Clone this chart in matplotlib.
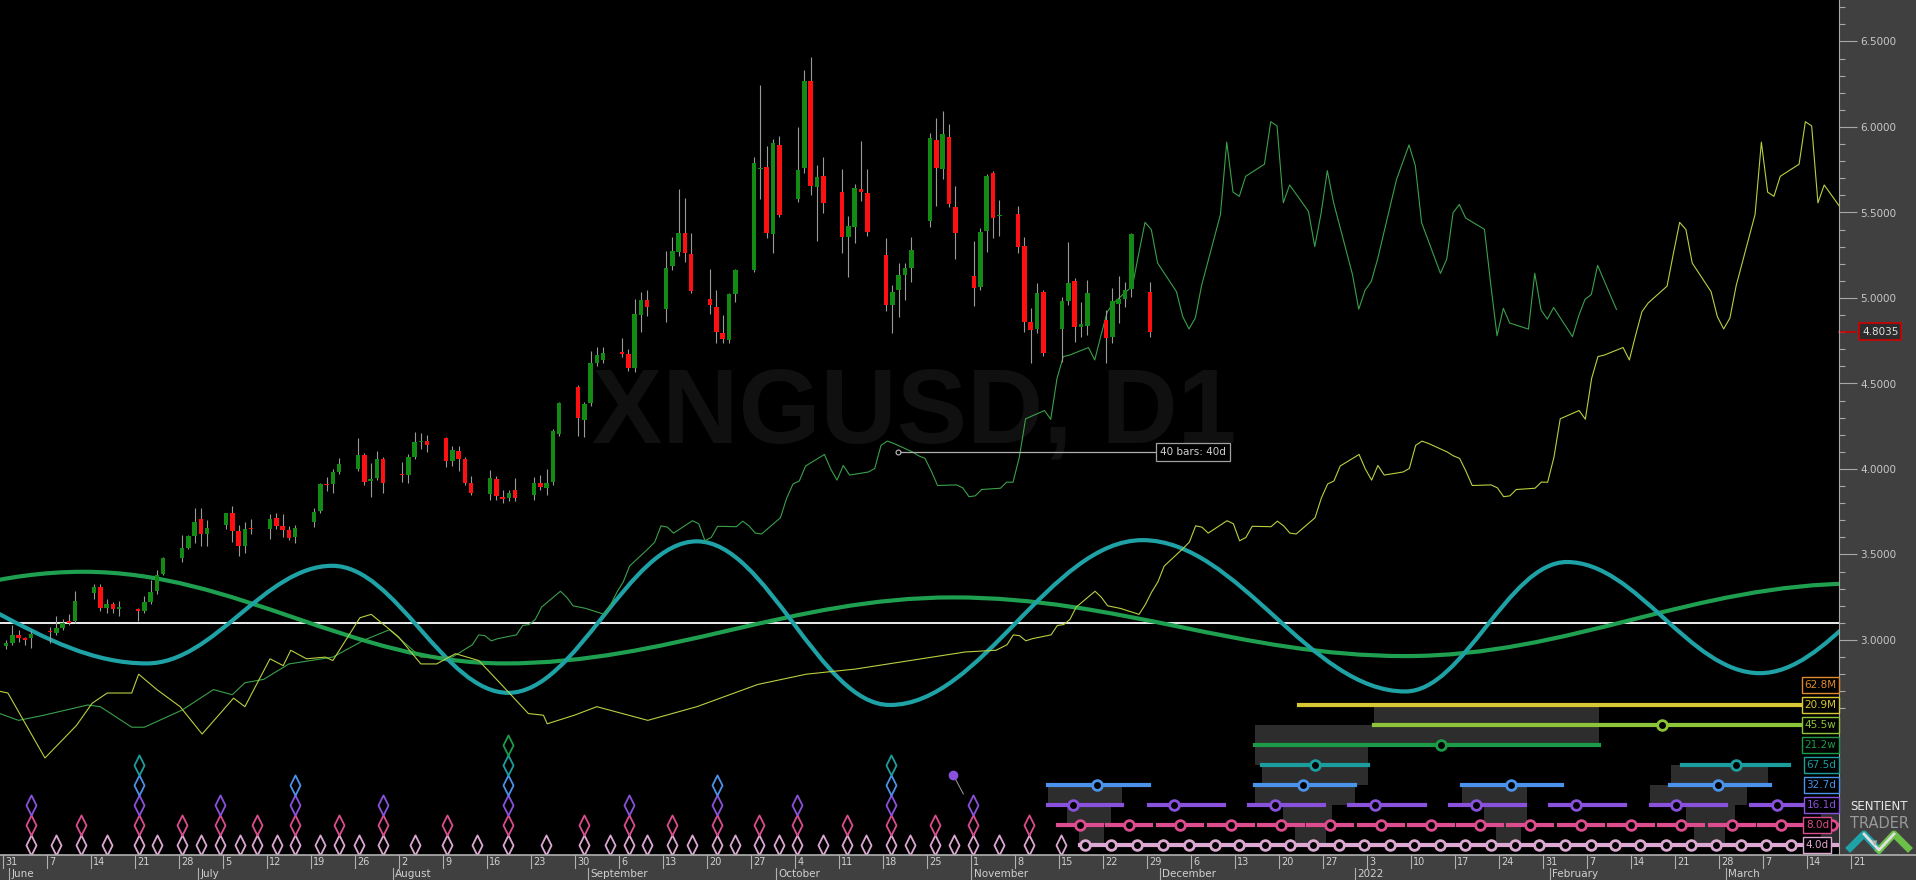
import matplotlib
matplotlib.use("Agg")
import matplotlib.pyplot as plt
import matplotlib.transforms as mtransforms
from matplotlib.path import Path
from matplotlib.patches import PathPatch, Rectangle
import numpy as np
import pandas as pd

# ---------------- data ----------------
origin = pd.Timestamp("2021-05-31")
dates = pd.bdate_range("2021-05-31", "2021-11-29")

opens = [2.965, 2.98, 3.03, 3.01, 3.01,
         3.055, 3.04, 3.07, 3.11, 3.11,
         3.275, 3.31, 3.19, 3.21, 3.18,
         3.18, 3.17, 3.225, 3.285, 3.385,
         3.48, 3.54, 3.61, 3.71, 3.62,
         3.67, 3.74, 3.64, 3.55, 3.655,
         3.65, 3.715, 3.665, 3.645, 3.60,
         3.69, 3.756, 3.915, 3.91, 3.98,
         4.00, 4.08, 3.93, 3.945, 4.058,
         3.97, 3.963, 4.072, 4.157, 4.161,
         4.184, 4.048, 4.104, 4.06, 3.92,
         3.853, 3.94, 3.835, 3.83, 3.88,
         3.847, 3.92, 3.89, 3.926, 4.205,
         4.481, 4.287, 4.386, 4.62, 4.64,
         4.682, 4.673, 4.589, 4.90, 4.988,
         4.934, 5.187, 5.269, 5.382, 5.257,
         4.996, 4.946, 4.793, 4.754, 5.023,
         5.164, 5.755, 5.768, 5.374, 5.895,
         5.577, 5.758, 6.271, 5.651, 5.714,
         5.62, 5.359, 5.413, 5.636, 5.616,
         5.252, 4.959, 5.047, 5.135, 5.174,
         5.452, 5.924, 5.755, 5.944, 5.534,
         5.129, 5.063, 5.394, 5.733, 5.478,
         5.491, 5.304, 4.862, 4.817, 5.037,
         4.817, 4.985, 5.101, 4.829, 4.836,
         4.871, 4.774, 4.965, 4.992, 5.051,
         5.037]
highs = [3.00, 3.09, 3.06, 3.02, 3.06,
         3.075, 3.14, 3.12, 3.15, 3.285,
         3.33, 3.33, 3.24, 3.225, 3.23,
         3.19, 3.255, 3.35, 3.41, 3.485,
         3.615, 3.615, 3.77, 3.77, 3.70,
         3.745, 3.785, 3.67, 3.69, 3.71,
         3.735, 3.74, 3.735, 3.665, 3.67,
         3.77, 3.92, 3.955, 4.00, 4.065,
         4.18, 4.095, 4.035, 4.106, 4.072,
         4.04, 4.09, 4.216, 4.208, 4.20,
         4.19, 4.134, 4.134, 4.07, 3.96,
         3.994, 3.96, 3.876, 3.876, 3.95,
         3.955, 3.967, 3.998, 4.232, 4.394,
         4.491, 4.392, 4.69, 4.715, 4.712,
         4.764, 4.70, 4.996, 5.037, 5.047,
         5.277, 5.355, 5.639, 5.587, 5.378,
         5.168, 5.047, 4.899, 5.027, 5.168,
         5.823, 6.246, 5.889, 5.928, 5.947,
         6.002, 6.333, 6.411, 5.778, 5.827,
         5.752, 5.48, 5.667, 5.92, 5.752,
         5.349, 5.076, 5.203, 5.207, 5.359,
         5.967, 6.051, 6.096, 6.018, 5.655,
         5.335, 5.408, 5.725, 5.745, 5.573,
         5.538, 5.355, 4.94, 5.086, 5.047,
         5.008, 5.33, 5.115, 4.979, 5.105,
         4.93, 5.057, 5.129, 5.096, 5.378,
         5.096]
lows = [2.945, 2.97, 2.99, 2.97, 2.955,
        2.985, 3.03, 3.06, 3.09, 3.10,
        3.24, 3.17, 3.16, 3.16, 3.14,
        3.11, 3.16, 3.21, 3.27, 3.38,
        3.455, 3.53, 3.565, 3.55, 3.55,
        3.65, 3.575, 3.49, 3.51, 3.62,
        3.59, 3.65, 3.60, 3.585, 3.57,
        3.66, 3.74, 3.87, 3.86, 3.97,
        3.99, 3.905, 3.835, 3.935, 3.857,
        3.925, 3.916, 4.06, 4.118, 4.10,
        4.01, 4.02, 3.99, 3.905, 3.847,
        3.82, 3.82, 3.80, 3.81, 3.81,
        3.82, 3.88, 3.847, 3.905, 4.193,
        4.193, 4.19, 4.37, 4.60, 4.62,
        4.657, 4.575, 4.57, 4.803, 4.895,
        4.862, 5.164, 5.246, 5.213, 5.031,
        4.906, 4.735, 4.739, 4.739, 4.979,
        5.154, 5.577, 5.349, 5.261, 5.476,
        5.563, 5.729, 5.602, 5.335, 5.495,
        5.261, 5.121, 5.32, 5.569, 5.363,
        4.926, 4.793, 4.887, 4.988, 5.096,
        5.417, 5.538, 5.694, 5.53, 5.226,
        4.953, 5.047, 5.271, 5.349, 5.363,
        5.265, 4.803, 4.618, 4.793, 4.661,
        4.628, 4.959, 4.745, 4.774, 4.784,
        4.618, 4.735, 4.856, 4.945, 5.004,
        4.77]
closes = [2.985, 3.03, 3.01, 3.00, 3.035,
          3.045, 3.07, 3.10, 3.105, 3.23,
          3.31, 3.19, 3.21, 3.18, 3.195,
          3.17, 3.225, 3.28, 3.38, 3.48,
          3.54, 3.61, 3.69, 3.62, 3.655,
          3.74, 3.64, 3.55, 3.65, 3.648,
          3.71, 3.665, 3.645, 3.595, 3.655,
          3.75, 3.91, 3.905, 3.98, 4.03,
          4.08, 3.925, 3.94, 4.058, 3.916,
          3.963, 4.072, 4.157, 4.163, 4.138,
          4.048, 4.114, 4.06, 3.916, 3.857,
          3.948, 3.84, 3.83, 3.857, 3.83,
          3.92, 3.896, 3.92, 4.224, 4.388,
          4.296, 4.378, 4.618, 4.665, 4.676,
          4.678, 4.59, 4.906, 4.988, 4.945,
          5.173, 5.277, 5.382, 5.261, 5.043,
          4.957, 4.803, 4.758, 5.023, 5.164,
          5.788, 5.76, 5.382, 5.908, 5.485,
          5.749, 6.271, 5.655, 5.71, 5.558,
          5.355, 5.421, 5.641, 5.62, 5.388,
          4.959, 5.035, 5.135, 5.174, 5.281,
          5.934, 5.758, 5.959, 5.55, 5.378,
          5.057, 5.386, 5.714, 5.466, 5.484,
          5.30, 4.862, 4.813, 5.031, 4.676,
          4.985, 5.09, 4.829, 4.848, 5.031,
          4.764, 4.985, 4.992, 5.047, 5.374,
          4.8035]
last_price = 4.8035

# FLD lines: earlier part (before first candle), in days since 31 May
fld21_shift = 74.2
fld21_pre_day = [-1, 2, 6, 13, 15, 20, 22, 28, 33, 36, 38, 41, 45, 52, 57, 61, 66, 71]
fld21_pre_val = [2.57, 2.53, 2.56, 2.62, 2.61, 2.49, 2.49, 2.59, 2.71, 2.68, 2.75, 2.77,
                 2.86, 2.90, 3.00, 3.06, 2.90, 2.90]
fld45_shift = 159.25
fld45_pre_day = [-1, 0.3, 6.2, 11.2, 13.7, 16.1, 20.0, 21.1, 24.0, 27.7, 31.2, 36.2, 38.0,
                 42.0, 44.1, 45.3, 47.8, 50.8, 52.0, 56.3, 58.1, 62.4, 66.0, 68.5, 71.5,
                 75.2, 78.8, 83.1, 85.5, 86.1, 90.4, 94.0, 102.1, 109.9, 119.6, 127.3,
                 135.1, 143.9, 152.6, 157.5]
fld45_pre_val = [2.70, 2.69, 2.31, 2.50, 2.63, 2.69, 2.69, 2.80, 2.71, 2.61, 2.45, 2.66, 2.61,
                 2.89, 2.85, 2.94, 2.89, 2.90, 2.88, 3.13, 3.15, 3.02, 2.86, 2.86, 2.92,
                 2.88, 2.74, 2.57, 2.56, 2.51, 2.56, 2.61, 2.53, 2.61, 2.74, 2.80,
                 2.83, 2.88, 2.93, 2.94]

# cycle waves: turning points (day, price)
teal_days = [-25, 22.4, 51.9, 79.9, 109.9, 140.6, 180.8, 222.6, 248.3, 279.0, 309]
teal_vals = [3.45, 2.863, 3.434, 2.691, 3.577, 2.62, 3.584, 2.699, 3.456, 2.806, 3.45]
green_days = [-58, 12.3, 79.3, 150.7, 222.6, 294.6]
green_vals = [2.86, 3.399, 2.863, 3.249, 2.906, 3.33]
hline_price = 3.10

# past trough markers (day) per cycle row
troughs_4d = [4.0, 7.9, 12.0, 16.1, 21.1, 24.0, 28.0, 31.1, 34.0, 37.2, 40.0, 43.1, 45.9, 50.0,
              53.0, 56.1, 60.0, 65.0, 70.1, 75.0, 79.8, 85.9, 92.0, 96.1, 99.1, 101.9, 106.0,
              109.1, 113.1, 115.9, 119.8, 122.9, 125.9, 129.9, 133.8, 136.8, 140.8, 143.8,
              147.8, 150.8, 153.9, 157.9, 162.8, 167.8]
troughs_8d = [4.0, 12.0, 21.1, 28.0, 34.0, 40.0, 45.9, 53.0, 60.0, 70.1, 79.8, 92.0, 99.1,
              106.0, 113.1, 119.8, 125.9, 133.8, 140.8, 147.8, 153.9, 162.8]
troughs_16d = [4.0, 21.1, 34.0, 45.9, 60.0, 79.8, 99.1, 113.1, 125.9, 140.8, 153.9]
troughs_32d = [21.1, 45.9, 79.8, 113.1, 140.8]
troughs_67d = [21.1, 79.8, 140.8]
troughs_21w = [79.8]

# projected troughs
proj_4d = [171.7, 175.8, 179.9, 184.1, 188.2, 192.3, 196.2, 200.3, 204.2, 208.0, 212.1, 216.1,
           220.2, 224.0, 228.1, 232.1, 236.2, 240.0, 243.9, 248.0, 252.2, 256.0, 259.9, 264.1,
           268.0, 272.1, 276.0, 280.0, 283.9, 288.0]
proj_8d = [170.9, 178.7, 186.7, 194.8, 202.8, 210.7, 218.7, 226.7, 234.5, 242.5, 250.5, 258.5,
           266.4, 274.5, 282.4, 290.5]
# (start, end, circle day)
proj_16d = [(165.8, 177.6, 169.8), (181.8, 193.7, 185.8), (197.8, 209.7, 201.8),
            (213.7, 225.8, 217.8), (229.7, 241.6, 233.9), (245.7, 257.6, 249.7),
            (261.7, 273.6, 265.7), (277.6, 289.5, 281.7)]
proj_32d = [(165.8, 181.8, 173.6), (198.7, 214.6, 206.4), (231.6, 247.6, 239.4),
            (264.7, 280.6, 272.4)]
proj_67d = [(199.8, 216.7, 208.3), (266.7, 283.6, 275.2)]
proj_21w = [(198.7, 253.4, 228.3)]
proj_45w = [(217.6, 295.0, 263.4)]
proj_20m = [(205.7, 295.0, None)]
# shaded trough windows: (start day, end day, lower row, upper row)
windows = [(165.8, 177.6, 2, 3), (168.8, 175.8, 1, 2), (170.7, 174.7, 0, 1),
           (217.6, 253.4, 6, 7), (198.7, 253.4, 5, 6), (198.7, 216.7, 4, 5),
           (199.8, 216.7, 3, 4), (198.7, 214.6, 2, 3), (203.2, 211.0, 1, 2),
           (205.1, 210.0, 0, 1),
           (231.7, 242.0, 2, 3), (235.2, 242.0, 1, 2), (237.0, 241.0, 0, 1),
           (264.8, 280.3, 3, 4), (261.5, 277.0, 2, 3), (267.3, 275.1, 1, 2),
           (268.5, 273.5, 0, 1), (288.7, 292.0, 0, 2)]

cycle_labels = ["4.0d", "8.0d", "16.1d", "32.7d", "67.5d", "21.2w", "45.5w", "20.9M", "62.8M"]
cycle_colors = ["#dca8d2", "#dc4c8e", "#8a52dc", "#4a92ea", "#1c9e9e", "#1c9c48",
                "#8cc43a", "#d8c834", "#e08a2a"]

month_names = ["June", "July", "August", "September", "October", "November",
               "December", "2022", "February", "March"]
month_starts = ["2021-06-01", "2021-07-01", "2021-08-01", "2021-09-01", "2021-10-01",
                "2021-11-01", "2021-12-01", "2022-01-01", "2022-02-01", "2022-03-01"]

# ---------------- figure ----------------
W, H = 1916, 880
PANEL = "#404040"
NARROW = ["Liberation Sans Narrow", "DejaVu Sans"]
fig = plt.figure(figsize=(W / 100, H / 100), dpi=100, facecolor=PANEL)

px_per_day = 6.286
x0_px = 6.0
plot_w = 1839
plot_h = 855
xmin = (0 - x0_px) / px_per_day
xmax = (plot_w - x0_px) / px_per_day
ymin = 3.0 + (640 - 855) / 171.0
ymax = 3.0 + 640 / 171.0

ax = fig.add_axes([0, (H - plot_h) / H, plot_w / W, plot_h / H], facecolor="black")
ax.set_xlim(xmin, xmax)
ax.set_ylim(ymin, ymax)
for s in ["top", "left", "bottom"]:
    ax.spines[s].set_visible(False)
ax.spines["right"].set_color("#a8a8a8")
ax.set_xticks([])
ax.yaxis.tick_right()
ax.set_yticks(np.arange(3.0, 6.51, 0.5))
ax.set_yticks(np.arange(2.6, 6.75, 0.1), minor=True)
ax.set_yticklabels(["%.4f" % v for v in np.arange(3.0, 6.51, 0.5)])
ax.tick_params(axis="y", which="major", length=13, width=0.8, color="#a8a8a8",
               labelcolor="#c8c8c8", labelsize=7.5, pad=2.5)
ax.tick_params(axis="y", which="minor", length=4.5, width=0.8, color="#a8a8a8")

day = np.array([(d - origin).days for d in dates], dtype=float)
o = np.array(opens); h = np.array(highs); l = np.array(lows); c = np.array(closes)

# watermark
ax.text(0.497, 0.515, "XNGUSD, D1", transform=ax.transAxes, ha="center", va="center",
        fontsize=76, fontweight="bold", family=["Liberation Sans", "DejaVu Sans"],
        color="#101010", zorder=0.5)

ax.axhline(hline_price, color="white", lw=1.3, zorder=2)


def wave_path(days, vals):
    verts = [(days[0], vals[0])]
    codes = [Path.MOVETO]
    for i in range(len(days) - 1):
        dx = days[i + 1] - days[i]
        verts += [(days[i] + 0.3634 * dx, vals[i]), (days[i + 1] - 0.3634 * dx, vals[i + 1]),
                  (days[i + 1], vals[i + 1])]
        codes += [Path.CURVE4] * 3
    return Path(verts, codes)


ax.add_patch(PathPatch(wave_path(green_days, green_vals), fill=False, ec="#1ea050",
                       lw=3.0, zorder=3))
ax.add_patch(PathPatch(wave_path(teal_days, teal_vals), fill=False, ec="#1fa2a6",
                       lw=3.0, zorder=3))

# FLDs
mid = (h + l) / 2
ax.plot(fld21_pre_day + list(day + fld21_shift), fld21_pre_val + list(mid),
        color="#3aa04a", lw=0.8, zorder=4)
ax.plot(fld45_pre_day + list(day + fld45_shift), fld45_pre_val + list(mid),
        color="#b8d040", lw=0.8, zorder=4)

# candles
up = c >= o
ax.vlines(day, l, h, color="#9a9a9a", lw=0.8, zorder=5)
body = np.where(np.abs(c - o) < 0.008, 0.008 * np.where(up, 1, -1), c - o)
ax.bar(day, body, bottom=o, width=0.74, color=np.where(up, "#138a13", "#ff1010"),
       linewidth=0, zorder=6)

# 40 bars annotation
ax.plot([141.9, 182.9], [4.10, 4.10], color="#b0b0b0", lw=0.9, zorder=7)
ax.plot([141.9], [4.10], "o", ms=3.5, mfc="black", mec="#c0c0c0", mew=0.8, zorder=8)
ax.text(183.6, 4.10, "40 bars: 40d", color="#d0d0d0", fontsize=7.5, va="center", ha="left",
        zorder=8, bbox=dict(boxstyle="square,pad=0.35", fc="black", ec="#a0a0a0", lw=0.9))

# last price box
tr = mtransforms.blended_transform_factory(ax.transAxes, ax.transData)
ax.plot([1.0, 1.009], [last_price, last_price], transform=tr, color="#d00000", lw=1.2,
        clip_on=False)
ax.text(1.0125, last_price, "%.4f" % last_price, transform=tr, ha="left", va="center",
        fontsize=7.5, color="#e0e0e0", clip_on=False,
        bbox=dict(boxstyle="square,pad=0.3", fc="#2c2c2c", ec="#d00000", lw=1.2))

# ---------------- cycle panel ----------------
axc = fig.add_axes([0, (H - plot_h) / H, plot_w / W, 180 / H])
axc.set_xlim(xmin, xmax)
axc.set_ylim(-0.5, 8.5)
axc.axis("off")
axc.patch.set_alpha(0)

diamond = Path([(0, -1), (0.5, 0), (0, 1), (-0.5, 0), (0, -1)],
               [Path.MOVETO, Path.LINETO, Path.LINETO, Path.LINETO, Path.CLOSEPOLY])
past = [troughs_4d, troughs_8d, troughs_16d, troughs_32d, troughs_67d, troughs_21w]
for row, xs in enumerate(past):
    axc.plot(xs, [row] * len(xs), linestyle="none", marker=diamond, ms=14.5,
             mfc="none", mec=cycle_colors[row], mew=1.3, zorder=5)

# purple pointer
axc.plot([150.7, 152.3], [3.5, 2.55], color="#a0a0a0", lw=0.7, zorder=5)
axc.plot([150.7], [3.5], "o", ms=6, color="#8a52dc", zorder=6)

for (a, b, r0, r1) in windows:
    axc.add_patch(Rectangle((a, r0), b - a, r1 - r0, fc="#2d2d2d", ec="none", zorder=1))

axc.plot([proj_4d[0] - 0.8, xmax], [0, 0], color=cycle_colors[0], lw=3.0, zorder=3)
axc.plot(proj_4d, [0] * len(proj_4d), "o", ms=7, mfc="black", mec=cycle_colors[0], mew=2.0,
         zorder=4)
for cc in proj_8d:
    axc.plot([cc - 3.5, cc + 3.5], [1, 1], color=cycle_colors[1], lw=3.0, zorder=3)
axc.plot(proj_8d, [1] * len(proj_8d), "o", ms=7, mfc="black", mec=cycle_colors[1], mew=2.0,
         zorder=4)
segs = {2: proj_16d, 3: proj_32d, 4: proj_67d, 5: proj_21w, 6: proj_45w, 7: proj_20m}
for row, items in segs.items():
    for (a, b, cc) in items:
        axc.plot([a, b], [row, row], color=cycle_colors[row], lw=3.0, zorder=3)
        if cc is not None:
            axc.plot([cc], [row], "o", ms=7, mfc="black", mec=cycle_colors[row], mew=2.0,
                     zorder=4)

trc = mtransforms.blended_transform_factory(axc.transAxes, axc.transData)
for row, (lab, col) in enumerate(zip(cycle_labels, cycle_colors)):
    xr = 0.9945 if row < 2 else 0.9985
    axc.text(xr, row, lab, transform=trc, ha="right", va="center", fontsize=7.5, color=col,
             family=NARROW, zorder=10,
             bbox=dict(boxstyle="square,pad=0.25", fc="black", ec=col, lw=1.0))

# ---------------- date axis ----------------
axb = fig.add_axes([0, 0, 1, (H - plot_h) / H], facecolor=PANEL)
axb.set_xlim(xmin, (W - x0_px) / px_per_day)
axb.set_ylim(0, 1)
axb.set_xticks([])
axb.set_yticks([])
for s in ["left", "right", "bottom"]:
    axb.spines[s].set_visible(False)
axb.spines["top"].set_color("#b0b0b0")
axb.spines["top"].set_linewidth(1.2)

mondays = pd.date_range("2021-05-31", "2022-03-21", freq="7D")
for m in mondays:
    dd = (m - origin).days - 0.45
    axb.plot([dd, dd], [1.0, 0.5], color="#b0b0b0", lw=0.8)
    axb.text(dd + 0.3, 0.72, str(m.day), color="#d0d0d0", fontsize=7, va="center", ha="left",
             family=NARROW)
for name, ms_ in zip(month_names, month_starts):
    dd = (pd.Timestamp(ms_) - origin).days - 0.45
    axb.plot([dd, dd], [0.5, 0.0], color="#b0b0b0", lw=0.8)
    axb.text(dd + 0.4, 0.24, name, color="#d0d0d0", fontsize=7.5, va="center", ha="left",
             family=NARROW)

# branding
fig.text(1879 / W, 1 - 806 / H, "SENTIENT", color="#e8e8e8", fontsize=8.5,
         ha="center", va="center")
fig.text(1879 / W, 1 - 823 / H, "TRADER", color="#9a9a9a", fontsize=10.5, ha="center",
         va="center")
logo_x = np.array([1850, 1864, 1879, 1894, 1908]) / W
logo_y = 1 - np.array([848, 834, 850, 834, 848]) / H
fig.add_artist(plt.Line2D(logo_x[:3], logo_y[:3], color="#1fa2a6", lw=5,
                          transform=fig.transFigure))
fig.add_artist(plt.Line2D(logo_x[2:], logo_y[2:], color="#6cc04a", lw=5,
                          transform=fig.transFigure))
fig.add_artist(plt.Line2D(logo_x[1:4], logo_y[1:4], color="#e0e0e0", lw=2,
                          transform=fig.transFigure))
fig.text(1875 / W, 1 - 843 / H, "\u25bc", color="#b0b0b0", fontsize=5, ha="center",
         va="center")

fig.savefig("out.png", dpi=100, facecolor=PANEL)
